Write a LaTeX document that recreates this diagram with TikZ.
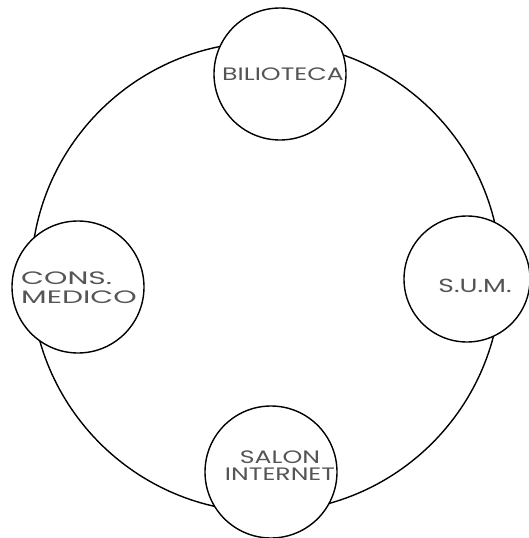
\documentclass[tikz,border=0pt]{standalone}
\usepackage{fontspec}
\setmainfont{Poppins}[FakeStretch=1.4]
\definecolor{txt}{HTML}{555555}
\tikzset{
  room/.style={circle,draw=black,fill=white,line width=1.4pt,minimum size=132pt,inner sep=0pt},
  lbl/.style={text=txt,font=\fontsize{18}{17}\selectfont,align=center,inner sep=0pt}
}
\begin{document}
\begin{tikzpicture}[x=1pt,y=-1pt]
\useasboundingbox[fill=white] (0,0) rectangle (529,538);
\node[circle,draw=black,line width=1.4pt,minimum size=470pt,inner sep=0pt] (big) at (266,277) {};
\node[room] (bib) at (280,74) {};
\node[room] (cons) at (78,287) {};
\node[room,minimum size=126pt] (sum) at (467,279) {};
\node[room] (sal) at (271,472) {};
\node[lbl] (tbib) at (283,74) {BILIOTECA};
\node[lbl,align=left,anchor=west,xscale=1.18,font=\fontsize{18}{19}\selectfont] (tcons) at (21,288) {CONS.\\MEDICO};
\node[lbl,font=\fontsize{19}{15}\selectfont] (tsum) at (475,286) {S.U.M.};
\node[lbl] (tsal) at (280,466) {SALON\\INTERNET};
\end{tikzpicture}
\end{document}
